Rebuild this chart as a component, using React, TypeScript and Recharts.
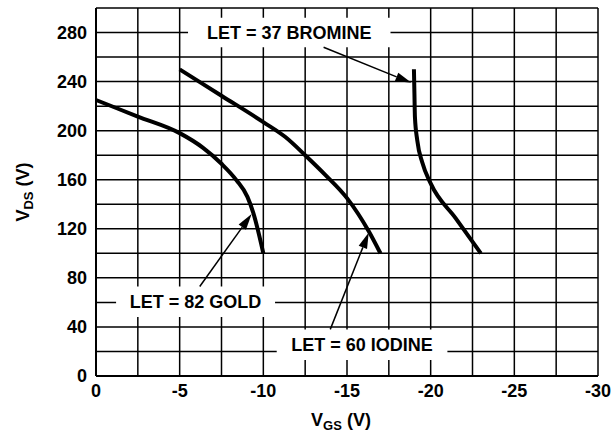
import React from 'react';
import { LineChart, Line, XAxis, YAxis, CartesianGrid, ReferenceArea, ReferenceLine } from 'recharts';

// V_GS grid every 2.5 V, labels every 5 V
const xTicks = [0, -2.5, -5, -7.5, -10, -12.5, -15, -17.5, -20, -22.5, -25, -27.5, -30];
const yTicks = [0, 20, 40, 60, 80, 100, 120, 140, 160, 180, 200, 220, 240, 260, 280, 300];

const gold = [
  { vgs: 0, vds: 225 },
  { vgs: -2.5, vds: 211.5 },
  { vgs: -5, vds: 198 },
  { vgs: -6.4, vds: 186 },
  { vgs: -7.5, vds: 173 },
  { vgs: -8.4, vds: 159.5 },
  { vgs: -9.05, vds: 146 },
  { vgs: -9.4, vds: 133 },
  { vgs: -10, vds: 100 },
];

const iodine = [
  { vgs: -5, vds: 250 },
  { vgs: -7.5, vds: 228.5 },
  { vgs: -10, vds: 207 },
  { vgs: -11.3, vds: 195 },
  { vgs: -12.5, vds: 180 },
  { vgs: -13.7, vds: 164 },
  { vgs: -15, vds: 145 },
  { vgs: -16.3, vds: 118 },
  { vgs: -17, vds: 100 },
];

const bromine = [
  { vgs: -19, vds: 250 },
  { vgs: -19.03, vds: 230 },
  { vgs: -19.06, vds: 211 },
  { vgs: -19.2, vds: 192 },
  { vgs: -19.5, vds: 174 },
  { vgs: -20, vds: 157 },
  { vgs: -21.5, vds: 128.5 },
  { vgs: -23, vds: 100 },
];

const boxes = [
  { text: 'LET = 37 BROMINE', x1: -5.5, x2: -17.6, y1: 268, y2: 292 },
  { text: 'LET = 82 GOLD', x1: -1.2, x2: -10.7, y1: 48, y2: 73 },
  { text: 'LET = 60 IODINE', x1: -10.8, x2: -21, y1: 13, y2: 38 },
];

const arrows = [
  { x1: -13.6, y1: 268, x2: -18.85, y2: 239 },
  { x1: -6.2, y1: 73, x2: -9.3, y2: 132 },
  { x1: -14, y1: 38, x2: -16.3, y2: 117 },
];

const font = '"Liberation Sans", Arial, sans-serif';

const Arrow = (p: any) => {
  const { x1, y1, x2, y2 } = p;
  const a = Math.atan2(y2 - y1, x2 - x1);
  const len = 16;
  const half = 4.5;
  const bx = x2 - len * Math.cos(a);
  const by = y2 - len * Math.sin(a);
  const pts = `${x2},${y2} ${bx + half * Math.sin(a)},${by - half * Math.cos(a)} ${bx - half * Math.sin(a)},${by + half * Math.cos(a)}`;
  return (
    <g>
      <line x1={x1} y1={y1} x2={bx} y2={by} stroke="#000" strokeWidth={1.5} />
      <polygon points={pts} fill="#000" />
    </g>
  );
};

const XTitle = (p: any) => {
  const vb = p.viewBox;
  return (
    <text x={vb.x + vb.width / 2 - 6} y={426} textAnchor="middle" fontSize={18} fontWeight="bold" fill="#000">
      V<tspan dy={4} fontSize={13}>GS</tspan><tspan dy={-4}> (V)</tspan>
    </text>
  );
};

const YTitle = (p: any) => {
  const vb = p.viewBox;
  const cy = vb.y + vb.height / 2;
  return (
    <text x={29} y={cy} transform={`rotate(-90 29 ${cy})`} textAnchor="middle" fontSize={18} fontWeight="bold" fill="#000">
      V<tspan dy={4} fontSize={13}>DS</tspan><tspan dy={-4}> (V)</tspan>
    </text>
  );
};

export default function App() {
  const tick = { fill: '#000', fontSize: 18, fontWeight: 'bold' };
  return (
    <div style={{ position: 'absolute', left: 0, top: 0, fontFamily: font, background: '#fff' }}>
      <LineChart width={612} height={432} margin={{ top: 8, right: 14, bottom: 26, left: 0 }}>
        <CartesianGrid stroke="#000" strokeWidth={1.5} />
        <XAxis
          type="number"
          dataKey="vgs"
          domain={[-30, 0]}
          reversed
          ticks={xTicks}
          interval={0}
          tickFormatter={(v: number) => (v % 5 === 0 ? String(v) : '')}
          tickLine={false}
          axisLine={{ stroke: '#000', strokeWidth: 2 }}
          tick={tick}
          height={30}
          label={{ content: XTitle }}
        />
        <YAxis
          type="number"
          dataKey="vds"
          domain={[0, 300]}
          ticks={yTicks}
          interval={0}
          tickFormatter={(v: number) => (v % 40 === 0 ? String(v) : '')}
          tickLine={false}
          tickMargin={3}
          axisLine={{ stroke: '#000', strokeWidth: 2 }}
          tick={tick}
          width={96}
          label={{ content: YTitle }}
        />
        {boxes.map((b) => (
          <ReferenceArea
            key={b.text}
            x1={b.x1}
            x2={b.x2}
            y1={b.y1}
            y2={b.y2}
            fill="#fff"
            fillOpacity={1}
            stroke="none"
            label={{ value: b.text, position: 'center', fill: '#000', fontSize: 18, fontWeight: 'bold' }}
          />
        ))}
        {arrows.map((a, i) => (
          <ReferenceLine
            key={i}
            segment={[{ x: a.x1, y: a.y1 }, { x: a.x2, y: a.y2 }]}
            shape={Arrow}
          />
        ))}
        <Line data={gold} dataKey="vds" type="monotone" stroke="#000" strokeWidth={4} dot={false} isAnimationActive={false} />
        <Line data={iodine} dataKey="vds" type="monotone" stroke="#000" strokeWidth={4} dot={false} isAnimationActive={false} />
        <Line data={bromine} dataKey="vds" type="monotone" stroke="#000" strokeWidth={4} dot={false} isAnimationActive={false} />
      </LineChart>
    </div>
  );
}
